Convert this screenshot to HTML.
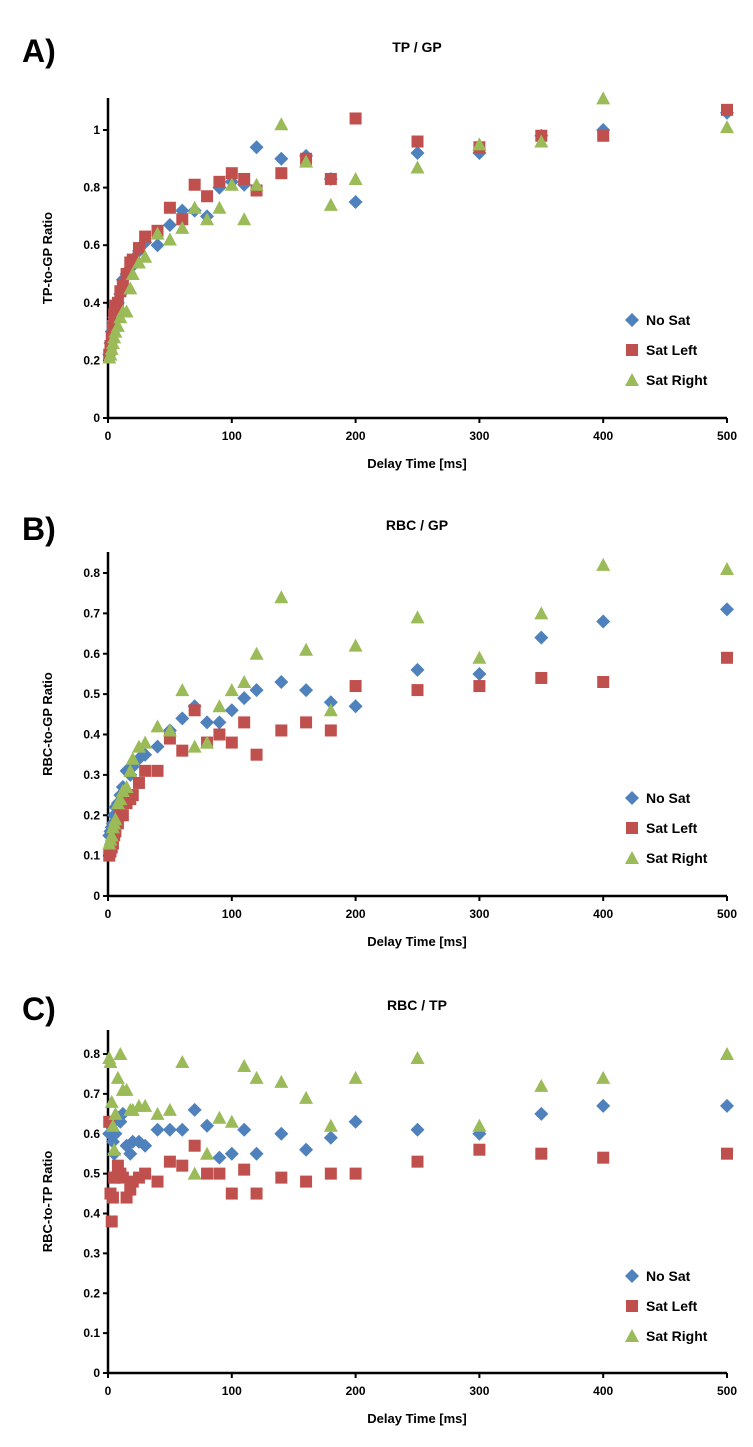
<!DOCTYPE html>
<html><head><meta charset="utf-8"><style>
body{margin:0;background:#fff}
svg{display:block;font-family:"Liberation Sans",Arial,sans-serif}
</style></head><body>
<svg id="c" width="753" height="1447"></svg>
<script>
const delays=[1,2,3,4,5,6,8,10,12,15,18,20,25,30,40,50,60,70,80,90,100,110,120,140,160,180,200,250,300,350,400,500];
const aNoSat=[0.22,0.26,0.3,0.33,0.35,0.37,0.4,0.43,0.48,0.5,0.52,0.55,0.58,0.61,0.6,0.67,0.72,0.72,0.7,0.8,0.82,0.81,0.94,0.9,0.91,0.83,0.75,0.92,0.92,0.98,1.0,1.06];
const aSatLeft=[0.22,0.25,0.28,0.32,0.36,0.39,0.4,0.44,0.46,0.5,0.54,0.55,0.59,0.63,0.65,0.73,0.69,0.81,0.77,0.82,0.85,0.83,0.79,0.85,0.9,0.83,1.04,0.96,0.94,0.98,0.98,1.07];
const aSatRight=[0.21,0.22,0.24,0.26,0.28,0.3,0.32,0.35,0.37,0.37,0.45,0.5,0.54,0.56,0.64,0.62,0.66,0.73,0.69,0.73,0.81,0.69,0.81,1.02,0.89,0.74,0.83,0.87,0.95,0.96,1.11,1.01];
const bNoSat=[0.15,0.16,0.17,0.18,0.2,0.22,0.23,0.25,0.27,0.31,0.3,0.32,0.34,0.35,0.37,0.41,0.44,0.47,0.43,0.43,0.46,0.49,0.51,0.53,0.51,0.48,0.47,0.56,0.55,0.64,0.68,0.71];
const bSatLeft=[0.1,0.11,0.12,0.13,0.15,0.16,0.18,0.2,0.2,0.23,0.24,0.25,0.28,0.31,0.31,0.39,0.36,0.46,0.38,0.4,0.38,0.43,0.35,0.41,0.43,0.41,0.52,0.51,0.52,0.54,0.53,0.59];
const bSatRight=[0.13,0.14,0.15,0.17,0.18,0.19,0.23,0.24,0.26,0.27,0.31,0.34,0.37,0.38,0.42,0.41,0.51,0.37,0.38,0.47,0.51,0.53,0.6,0.74,0.61,0.46,0.62,0.69,0.59,0.7,0.82,0.81];
const cNoSat=[0.6,0.62,0.63,0.58,0.55,0.6,0.64,0.63,0.65,0.57,0.55,0.58,0.58,0.57,0.61,0.61,0.61,0.66,0.62,0.54,0.55,0.61,0.55,0.6,0.56,0.59,0.63,0.61,0.6,0.65,0.67,0.67];
const cSatLeft=[0.63,0.45,0.38,0.44,0.49,0.49,0.52,0.5,0.49,0.44,0.46,0.48,0.49,0.5,0.48,0.53,0.52,0.57,0.5,0.5,0.45,0.51,0.45,0.49,0.48,0.5,0.5,0.53,0.56,0.55,0.54,0.55];
const cSatRight=[0.79,0.78,0.68,0.62,0.56,0.65,0.74,0.8,0.71,0.71,0.66,0.66,0.67,0.67,0.65,0.66,0.78,0.5,0.55,0.64,0.63,0.77,0.74,0.73,0.69,0.62,0.74,0.79,0.62,0.72,0.74,0.8];
const xTicks=[0,100,200,300,400,500];
const aTicks=[0,0.2,0.4,0.6,0.8,1];
const bTicks=[0,0.1,0.2,0.3,0.4,0.5,0.6,0.7,0.8];
const cTicks=[0,0.1,0.2,0.3,0.4,0.5,0.6,0.7,0.8];
const seriesNames=["No Sat","Sat Left","Sat Right"];

const NS="http://www.w3.org/2000/svg";
const svg=document.getElementById('c');
const COLORS=["#4f81bd","#c0504d","#9bbb59"];
function mk(tag,attrs,parent,text){const e=document.createElementNS(NS,tag);for(const k in attrs)e.setAttribute(k,attrs[k]);if(text!==undefined)e.textContent=text;(parent||svg).appendChild(e);return e;}
function marker(g,kind,x,y){
  let e;
  if(kind===0){e=mk('polygon',{points:`${x},${y-7} ${x+7},${y} ${x},${y+7} ${x-7},${y}`,fill:COLORS[0]},g);}
  else if(kind===1){e=mk('rect',{x:x-6,y:y-6,width:12,height:12,fill:COLORS[1]},g);}
  else {e=mk('polygon',{points:`${x},${y-7} ${x+7},${y+6} ${x-7},${y+6}`,fill:COLORS[2]},g);}
  return e;
}
function panel(p){
  const g=mk('g',{});
  
  
  const x0=108,x1=727;
  const X=v=>x0+(x1-x0)*v/500;
  const Y=v=>p.y0-(p.y0-p.yTopTick)*v/p.ymaxTick;
  const l=mk('text',{x:22,y:p.titleY+10,'font-size':32,'font-weight':'bold'},g,p.letter);
  
  const t=mk('text',{x:417,y:p.titleY,'font-size':14,'font-weight':'bold','text-anchor':'middle'},g,p.title);
  
  const ya=mk('line',{x1:x0,y1:p.axisTop,x2:x0,y2:p.y0,stroke:'#000','stroke-width':2.5},g);
  
  const xa=mk('line',{x1:x0-1,y1:p.y0,x2:x1,y2:p.y0,stroke:'#000','stroke-width':2.5},g);
  
  p.ticks.forEach(v=>{
    mk('line',{x1:x0-5,y1:Y(v),x2:x0,y2:Y(v),stroke:'#000','stroke-width':2},g);
    const tl=mk('text',{x:x0-8,y:Y(v)+4,'font-size':12,'font-weight':'bold','text-anchor':'end'},g,String(v));
    
  });
  xTicks.forEach(v=>{
    mk('line',{x1:X(v),y1:p.y0,x2:X(v),y2:p.y0+5,stroke:'#000','stroke-width':2},g);
    const tl=mk('text',{x:X(v),y:p.y0+22,'font-size':12,'font-weight':'bold','text-anchor':'middle'},g,String(v));
    
  });
  const xt=mk('text',{x:417,y:p.y0+50,'font-size':13,'font-weight':'bold','text-anchor':'middle'},g,'Delay Time [ms]');
  
  const cy=(p.axisTop+p.y0)/2;
  const yt=mk('text',{x:52,y:cy,'font-size':13,'font-weight':'bold','text-anchor':'middle',transform:`rotate(-90 52 ${cy})`},g,p.ylabel);
  
  p.series.forEach((s,si)=>{
    const sg=mk('g',{},g);
    
    
    delays.forEach((d,i)=>{
      const m=marker(sg,si,X(d),Y(s[i]));
      
      
    });
  });
  seriesNames.forEach((n,si)=>{
    const ly=p.legY+si*30;
    const lg=mk('g',{},g);
    
    
    marker(lg,si,632,ly);
    mk('text',{x:646,y:ly+5,'font-size':14,'font-weight':'bold'},lg,n);
  });
}
panel({id:'a',letter:'A)',title:'TP / GP',ylabel:'TP-to-GP Ratio',titleY:52,axisTop:98,y0:418,yTopTick:130,ymaxTick:1,ticks:aTicks,legY:320,series:[aNoSat,aSatLeft,aSatRight]});
panel({id:'b',letter:'B)',title:'RBC / GP',ylabel:'RBC-to-GP Ratio',titleY:530,axisTop:552,y0:896,yTopTick:573,ymaxTick:0.8,ticks:bTicks,legY:798,series:[bNoSat,bSatLeft,bSatRight]});
panel({id:'c',letter:'C)',title:'RBC / TP',ylabel:'RBC-to-TP Ratio',titleY:1010,axisTop:1030,y0:1373,yTopTick:1054,ymaxTick:0.8,ticks:cTicks,legY:1276,series:[cNoSat,cSatLeft,cSatRight]});
</script>
</body></html>
